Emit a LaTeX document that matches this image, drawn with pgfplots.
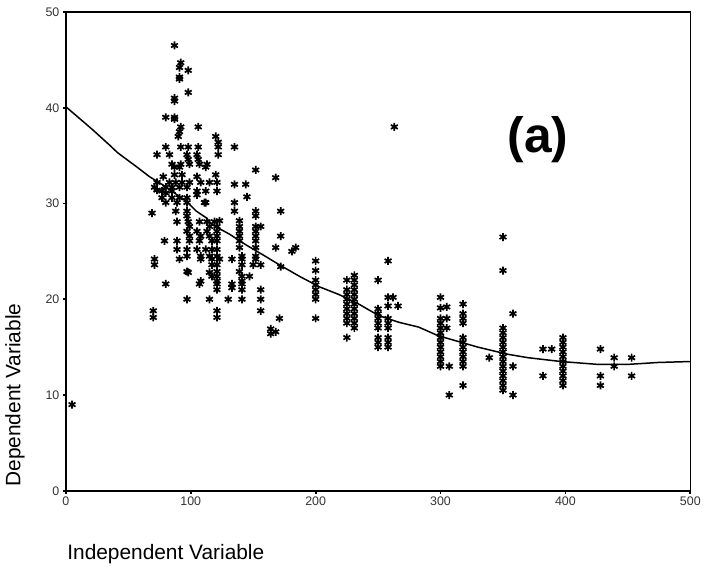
\documentclass[border=0pt]{standalone}
\usepackage{pgfplots}
\pgfplotsset{compat=1.18}
\usepackage{fontspec}
\setmainfont{Liberation Sans}
\begin{document}
\begin{tikzpicture}
\begin{axis}[
  name=ax,
  scale only axis,
  width=626bp, height=480bp,
  xmin=0, xmax=500, ymin=0, ymax=50,
  xtick={0,100,...,500}, ytick={0,10,...,50},
  minor tick num=0,
  axis line style={line width=1.6bp},
  tick style={line width=1.8bp, black},
  tick align=outside,
  major tick length=3bp,
  xtick pos=bottom, ytick pos=left,
  /pgf/number format/assume math mode=true,
  ticklabel style={font=\fontsize{12.5}{14}\selectfont, text=black!80},
  clip=false,
]
\addplot[only marks, mark=asterisk, mark size=4bp, mark options={line width=1.7bp, black}] coordinates {
(5,9) (263,38)
(87,46.5) (92,44.7) (91,44.2) (98,43.9) (91,43.2) (91,43.0) (98,41.6) (87,41.0) (87,40.7) (80,39.0) (87,39.0) (87,38.8) (106,38.0) (92,38.0) (91,37.5) (90,37.0) (120,37.0) (122,36.4) (122,35.9) (135,35.9) (80,35.9) (92,35.9) (98,35.9) (106,35.9) (73,35.1) (83,35.1) (122,35.1) (97,35.1) (105,35.1) (87,33.8) (91,33.8) (98,34.6) (106,34.6) (112,33.8) (85,34.1) (92,34.1) (99,34.1) (107,34.1) (113,34.1) (78,32.8) (87,33.0) (93,33.0) (105,32.8) (120,33.0) (135,32.0) (144,32.0) (152,33.5) (73,32.2) (73,31.4) (80,31.1) (105,30.9) (145,30.7) (80,30.1) (89,30.1) (112,30.1) (135,30.1) (135,29.2) (69,29.0) (88,29.2) (97,29.2) (89,28.1) (98,28.1) (107,28.1) (113,28.1) (119,28.1) (168,32.7) (83,32.2) (88,32.2) (93,32.2) (99,32.2) (108,32.2) (115,32.2) (121,32.2) (71,31.7) (80,31.7) (85,31.7) (91,31.7) (97,31.7) (77,31.3) (85,31.3) (105,31.3) (112,31.3) (121,31.3) (77,30.6) (85,30.6) (91,30.6) (97,30.6) (97,30.1) (111,30.1) (152,29.2) (172,29.2) (97,28.7) (152,28.7)
(123,28.2) (139,28.2) (99,27.6) (115,27.6) (121,27.6) (139,27.6) (152,27.6) (156,27.6)
(97,27.1) (105,27.1) (113,27.1) (121,27.1) (139,27.1) (152,27.1)
(99,26.6) (108,26.6) (115,26.6) (121,26.6) (139,26.6) (152,26.6) (172,26.6)
(79,26.1) (89,26.1) (99,26.1) (107,26.1) (117,26.1) (121,26.1) (139,26.1) (152,26.1)
(139,25.4) (152,25.4) (168,25.4) (181,25.0) (184,25.4)
(89,25.2) (97,25.2) (105,25.2) (112,25.2) (117,25.2) (121,25.2)
(97,24.5) (108,24.5) (115,24.5) (121,24.5) (141,24.5) (152,24.5)
(71,24.2) (91,24.2) (108,24.2) (117,24.2) (123,24.2) (133,24.2) (141,24.2) (152,24.2)
(71,23.6) (117,23.6) (121,23.6) (141,23.6) (150,23.6) (156,23.6) (172,23.4)
(97,22.9) (121,22.9) (139,22.9) (115,22.8) (98,22.8)
(117,22.4) (121,22.4) (141,22.4) (147,22.4)
(121,21.9) (141,21.9) (108,21.9)
(80,21.6) (107,21.6) (121,21.6) (133,21.6) (141,21.6)
(121,21.0) (141,21.0) (156,21.0) (133,21.2)
(97,20.0) (115,20.0) (130,20.0) (141,20.0) (156,20.0)
(70,18.8) (121,18.8) (156,18.8)
(70,18.1) (121,18.1) (171,18.0)
(164,16.9) (164,16.4) (168,16.6)
(200,24) (200,23) (200,22) (200,21.5) (200,21) (200,20.5) (200,20) (200,18)
(225,22) (225,21) (225,20.5) (225,20) (225,19.5) (225,19) (225,18.5) (225,18) (225,17.5) (225,16)
(231,22.5) (231,22) (231,21.5) (231,21) (231,20.5) (231,20) (231,19.5) (231,19) (231,18.5) (231,18) (231,17.5) (231,17)
(250,22) (250,19) (250,18.5) (250,18) (250,17.5) (250,17) (250,16) (250,15.5) (250,15)
(258,24) (258,20.2) (258,19.3) (258,18) (258,17.5) (258,17) (258,16) (258,15.5) (258,15)
(262,20.2) (266,19.3)
(300,20.2) (300,19.1) (300,18) (300,17.5) (300,17) (300,16.5) (300,16) (300,15.5) (300,15) (300,14.5) (300,14) (300,13.5) (300,13)
(305,18) (305,19.2) (305,17) (307,13) (307,10)
(318,19.5) (318,18.5) (318,18) (318,17.5) (318,16) (318,15.5) (318,15) (318,14.5) (318,14) (318,13.5) (318,13) (318,11)
(339,13.9)
(350,26.5) (350,23) (350,17) (350,16.5) (350,16) (350,15.5) (350,15) (350,14.5) (350,14) (350,13.5) (350,13) (350,12.5) (350,12) (350,11.5) (350,11) (350,10.5)
(358,18.5) (358,13) (358,10)
(382,14.8) (389,14.8) (382,12)
(398,16) (398,15.5) (398,15) (398,14.5) (398,14) (398,13.5) (398,13) (398,12.5) (398,12) (398,11.5) (398,11)
(428,14.8) (428,12) (428,11)
(439,13.9) (439,13.0)
(453,13.9) (453,12.0)
};
\addplot[black, line width=1.5bp] coordinates {
(0,40.1) (9,39.1) (21.5,37.7) (35,36.1) (41.5,35.3) (57,33.8) (67,32.8) (77,32.0) (88,31.0) (96,30.3) (104.5,29.2) (112.5,28.5) (117,27.8) (131,26.8) (144,25.7) (157,24.7) (171,23.6) (187,22.4) (203,21.3) (218.6,20.5) (234.5,19.5) (250.5,18.3) (266.5,17.6) (282.4,17.1) (298,16.2) (314,15.6) (330,15.0) (346,14.5) (352,14.3) (370,13.9) (396.5,13.5) (426,13.2) (450,13.2) (474,13.4) (500,13.5)
};
\node[font=\bfseries\fontsize{50}{56}\selectfont] at (axis cs:378,36.7) {(a)};
\end{axis}
\node[anchor=west, font=\fontsize{21}{24}\selectfont] at ([shift={(-2bp,-63bp)}]ax.south west) {Independent Variable};
\node[rotate=90, font=\fontsize{21}{24}\selectfont] at ([shift={(-51bp,96bp)}]ax.south west) {Dependent Variable};
\path[use as bounding box] ([shift={(-66bp,-88bp)}]ax.south west) rectangle ([shift={(12bp,12bp)}]ax.north east);
\end{tikzpicture}
\end{document}
